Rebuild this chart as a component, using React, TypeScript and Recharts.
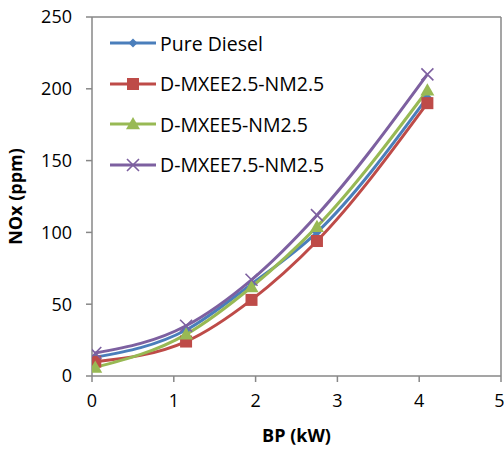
import React from 'react'
import { LineChart, Line, XAxis, YAxis, ReferenceLine } from 'recharts'

const bp = [0.04, 1.15, 1.95, 2.75, 4.1]
const pureDiesel = [13, 32, 64, 100, 194]
const mxee25 = [10, 24, 53, 94, 190]
const mxee5 = [6, 29, 62, 104, 199]
const mxee75 = [16, 35, 67, 112, 210]
const xTicks = [0, 1, 2, 3, 4, 5]
const yTicks = [0, 50, 100, 150, 200, 250]

const seriesNames = ['Pure Diesel', 'D-MXEE2.5-NM2.5', 'D-MXEE5-NM2.5', 'D-MXEE7.5-NM2.5']

const data = bp.map((x, i) => ({
  bp: x,
  pure: pureDiesel[i],
  m25: mxee25[i],
  m5: mxee5[i],
  m75: mxee75[i],
}))

const FONT = '"Open Sans", sans-serif'

type Shape = 'diamond' | 'square' | 'triangle' | 'cross'

const series: { key: string; name: string; color: string; shape: Shape }[] = [
  { key: 'pure', name: seriesNames[0], color: '#4a7ebb', shape: 'diamond' },
  { key: 'm25', name: seriesNames[1], color: '#be4b48', shape: 'square' },
  { key: 'm5', name: seriesNames[2], color: '#98b954', shape: 'triangle' },
  { key: 'm75', name: seriesNames[3], color: '#7d60a0', shape: 'cross' },
]

function marker(shape: Shape, color: string, cx: number, cy: number, key?: string | number) {
  if (shape === 'diamond') {
    const s = 4.5
    return <path key={key} d={`M${cx},${cy - s}L${cx + s},${cy}L${cx},${cy + s}L${cx - s},${cy}Z`} fill={color} />
  }
  if (shape === 'square') {
    const s = 6
    return <rect key={key} x={cx - s} y={cy - s} width={s * 2} height={s * 2} fill={color} />
  }
  if (shape === 'triangle') {
    const s = 7
    return <path key={key} d={`M${cx},${cy - s}L${cx + s},${cy + s * 0.75}L${cx - s},${cy + s * 0.75}Z`} fill={color} />
  }
  const s = 6
  return (
    <path
      key={key}
      d={`M${cx - s},${cy - s}L${cx + s},${cy + s}M${cx - s},${cy + s}L${cx + s},${cy - s}`}
      stroke={color}
      strokeWidth={1.6}
      fill="none"
    />
  )
}

// legend sits inside the plot box, top-left
function LegendBox() {
  return (
    <div
      style={{
        position: 'absolute',
        left: 110,
        top: 23,
        fontFamily: FONT,
        fontSize: 19.5,
        color: '#000',
        pointerEvents: 'none',
      }}
    >
      {series.map((s) => (
        <div key={s.key} style={{ display: 'flex', alignItems: 'center', height: 40.5 }}>
          <svg width={46} height={20} style={{ marginRight: 4 }}>
            <line x1={0} y1={10} x2={46} y2={10} stroke={s.color} strokeWidth={3} />
            {marker(s.shape, s.color, 23, 10)}
          </svg>
          <span>{s.name}</span>
        </div>
      ))}
    </div>
  )
}

export default function App() {
  return (
    <div style={{ position: 'absolute', left: 0, top: 0, width: 504, height: 449, background: '#fff' }}>
      <LineChart width={504} height={449} data={data} margin={{ top: 17, right: 3, bottom: 0, left: 0 }}>
        <XAxis
          type="number"
          dataKey="bp"
          domain={[0, 5]}
          ticks={xTicks}
          allowDataOverflow
          stroke="#878787"
          strokeWidth={1.5}
          tickSize={6}
          tickMargin={12}
          tick={{ fill: '#000', fontSize: 18, fontFamily: FONT }}
          height={73}
          label={{
            value: 'BP (kW)',
            position: 'insideBottom',
            offset: 7,
            style: { fontFamily: FONT, fontSize: 18, fontWeight: 700, fill: '#000' },
          }}
        />
        <YAxis
          type="number"
          domain={[0, 250]}
          ticks={yTicks}
          stroke="#878787"
          strokeWidth={1.5}
          tickSize={6}
          tickMargin={14}
          tick={{ fill: '#000', fontSize: 18, fontFamily: FONT }}
          width={92}
          label={{
            value: 'NOx (ppm)',
            angle: -90,
            position: 'insideLeft',
            offset: 16,
            style: { fontFamily: FONT, fontSize: 18, fontWeight: 700, fill: '#000', textAnchor: 'middle' },
          }}
        />
        <ReferenceLine y={250} stroke="#878787" strokeWidth={1.5} />
        <ReferenceLine x={5} stroke="#878787" strokeWidth={1.5} />
        {series.map((s) => (
          <Line
            key={s.key}
            type="monotone"
            dataKey={s.key}
            name={s.name}
            stroke={s.color}
            strokeWidth={3}
            isAnimationActive={false}
            dot={(p: any) => marker(s.shape, s.color, p.cx, p.cy, `${s.key}-${p.index}`)}
            activeDot={false}
          />
        ))}
      </LineChart>
      <LegendBox />
    </div>
  )
}
